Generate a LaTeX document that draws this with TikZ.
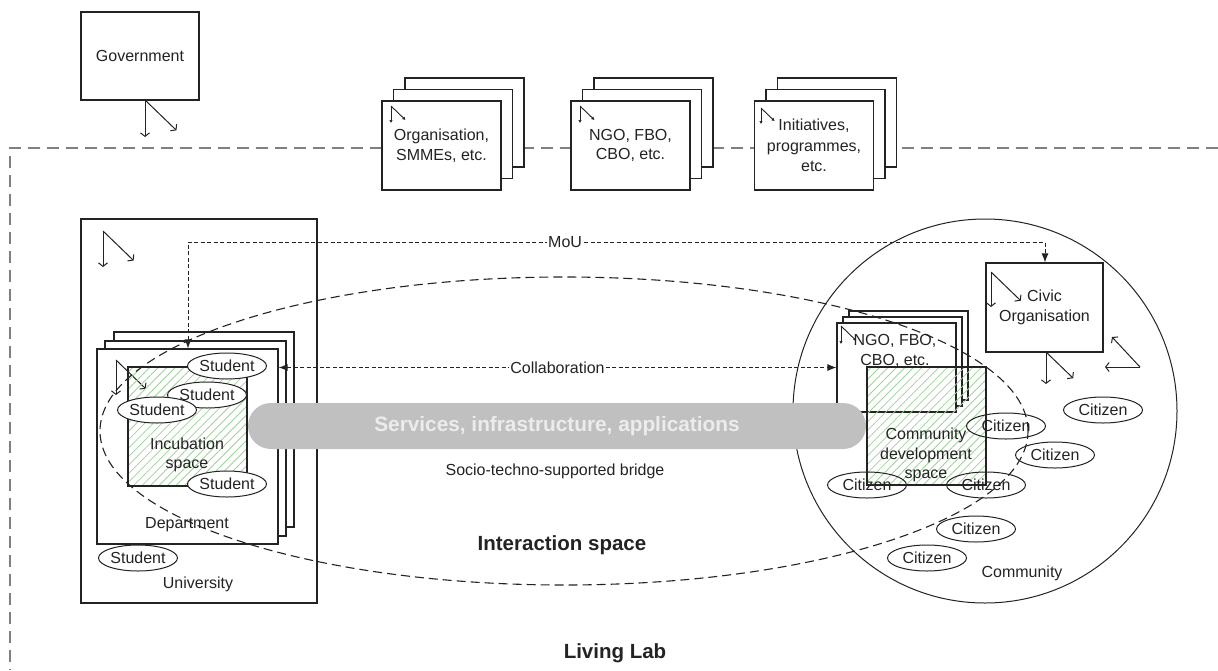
\documentclass[tikz,border=0pt]{standalone}
\usepackage{fontspec}
\setmainfont{Liberation Sans}
\usetikzlibrary{arrows.meta,patterns.meta,shapes.geometric}

\definecolor{ink}{RGB}{35,35,35}
\definecolor{frame}{RGB}{128,128,128}
\definecolor{barfill}{RGB}{192,192,192}
\definecolor{bartext}{RGB}{236,236,236}
\definecolor{hatch}{RGB}{160,210,155}

\tikzset{
  lab/.style={font=\fontsize{16}{19.5}\selectfont, text=ink, align=center, inner sep=0pt},
  boldlab/.style={lab, font=\bfseries\fontsize{20.5}{24}\selectfont},
  box/.style={lab, draw=ink, fill=white, line width=1.1pt},
  card/.style={box, minimum width=119, minimum height=89},
  hatchbox/.style={draw=ink, line width=1.1pt,
    pattern={Lines[angle=45,distance=6pt,line width=0.8pt]}, pattern color=hatch},
  person/.style={lab, ellipse, draw=ink, line width=1pt, minimum width=79, minimum height=26},
  student/.style={person, fill=white},
  icon/.style={draw=ink, line width=1pt, -{Straight Barb[length=3.5pt,width=9pt]}},
  smallicon/.style={draw=ink, line width=0.9pt, -{Latex[length=3pt,width=3.5pt]}},
  pics/orgicon/.style={code={
    \draw[#1] (0,0) -- (0,1);
    \draw[#1] (0,0) -- (0.85,0.82);
  }},
  lldash/.style={draw=frame, line width=2.2pt, dash pattern=on 12pt off 7pt},
  link/.style={draw=ink, line width=1pt, dash pattern=on 4pt off 2.5pt,
    {Latex[length=9pt,width=7pt]}-{Latex[length=9pt,width=7pt]}},
  bar/.style={fill=barfill, rounded corners=23pt, minimum width=618, minimum height=46,
    text=bartext, font=\bfseries\fontsize{20.8}{24}\selectfont, inner sep=0pt},
  interdash/.style={draw=ink, line width=1.1pt, dash pattern=on 9pt off 5pt}
}

\begin{document}
\begin{tikzpicture}[x=1pt,y=-1pt]
\useasboundingbox (0,0) rectangle (1218,670);

% Living Lab boundary
\coordinate (llR) at (1218,148);
\coordinate (llC) at (10,148);
\coordinate (llB) at (10,670);
\draw[lldash] (llR) -- (llC) -- (llB);

% Government
\node[box, minimum width=118, minimum height=88] (gov) at (140,56) {Government};
\pic[scale=37] at (145,100) {orgicon=icon};

% Organisations, SMMEs
\node[card] (org3) at (464.5,122.5) {};
\node[card] (org2) at (453,134) {};
\node[card] (org) at (441.5,145.5) {Organisation,\\SMMEs, etc.};
\pic[scale=17] at (391,106) {orgicon=smallicon};

% NGO, FBO, CBO
\node[card] (ngo3) at (653.5,122.5) {};
\node[card] (ngo2) at (642,134) {};
\node[card] (ngo) at (630.5,145.5) {NGO, FBO,\\CBO, etc.};
\pic[scale=17] at (580,106) {orgicon=smallicon};

% Initiatives, programmes
\node[card] (ini3) at (837,122.5) {};
\node[card] (ini2) at (825.5,134) {};
\node[card, font=\fontsize{16}{20.5}\selectfont] (ini) at (814,145.5) {Initiatives,\\programmes,\\etc.};
\pic[scale=16] at (761,108) {orgicon=smallicon};

% University
\node[box, minimum width=236, minimum height=384] (uni) at (199,411) {};
\node[lab] (unilab) at (198,584) {University};
\pic[scale=36] at (103,231) {orgicon=icon};

% Department stack
\node[box, minimum width=180, minimum height=195] (dept3) at (204,429.5) {};
\node[box, minimum width=181, minimum height=195] (dept2) at (195.5,438.5) {};
\node[box, minimum width=181, minimum height=195] (dept) at (187.5,446.5) {};
\node[lab] (deptlab) at (187,525) {Department};
\pic[scale=35] at (116,360) {orgicon=icon};

% Incubation space
\node[hatchbox, minimum width=119, minimum height=119] (incub) at (187.5,426.5) {};
\node[lab] (incublab) at (187,455) {Incubation\\space};

% Students
\node[student] (s2) at (207,395) {Student};
\node[student] (s3) at (157,410) {Student};
\node[student] (s1) at (227,366) {Student};
\node[student] (s4) at (227,484) {Student};
\node[student] (s5) at (138,558) {Student};

% Community
\node[draw=ink, line width=1pt, circle, minimum size=384, inner sep=0pt] (comm) at (985,411) {};
\node[lab] (commlab) at (1022,573) {Community};

% Civic organisation
\node[box, minimum width=117, minimum height=89] (civic) at (1044.5,307.5) {Civic\\Organisation};
\pic[scale=35] at (991,272) {orgicon=icon};
\pic[scale=32] at (1046,352) {orgicon=icon};
\coordinate (rot) at (1140,367);
\coordinate (rotL) at (1105,367);
\coordinate (rotU) at (1112,337);
\draw[icon] (rot) -- (rotL);
\draw[icon] (rot) -- (rotU);

% NGO stack inside the community
\node[card] (ngoc3) at (908.5,355.5) {};
\node[card] (ngoc2) at (902.5,361.5) {};
\node[card] (ngoc) at (896.5,367.5) {};
\node[lab] (ngoclab) at (895,351) {NGO, FBO,\\CBO, etc.};
\pic[scale=18] at (841,326) {orgicon=smallicon};

% Community development space
\node[hatchbox, minimum width=119, minimum height=118] (cdev) at (926.5,426) {};
\node[lab] (cdevlab) at (926,455) {Community\\development\\space};

% Citizens
\node[person] (c1) at (1006,426) {Citizen};
\node[person] (c2) at (1055,455) {Citizen};
\node[person] (c3) at (1103,410) {Citizen};
\node[person] (c4) at (867,485) {Citizen};
\node[person] (c5) at (986,485) {Citizen};
\node[person] (c6) at (976,529) {Citizen};
\node[person] (c7) at (927,558) {Citizen};

% MoU link
\coordinate (mouL) at (188,242);
\coordinate (mouR) at (1045,242);
\draw[link] (dept.north -| mouL) -- (mouL)
  -- node[lab, pos=0.44, fill=white, inner xsep=1pt] (moulab) {MoU} (mouR)
  -- (civic.north -| mouR);

% Collaboration link
\draw[link] (dept.east |- ngoc.west)
  -- node[lab, fill=white, inner xsep=1pt] (collab) {Collaboration} (ngoc.west);

% Services bar
\node[bar] (bar) at (557,426) {Services, infrastructure, applications};
\node[lab] (bridge) at (555,471) {Socio-techno-supported bridge};

% Interaction space
\node[interdash, ellipse, minimum width=928, minimum height=308, inner sep=0pt] (inter) at (564,431) {};
\node[boldlab] (interlab) at (562,545) {Interaction space};

\node[boldlab] (living) at (615,653) {Living Lab};
\end{tikzpicture}
\end{document}
